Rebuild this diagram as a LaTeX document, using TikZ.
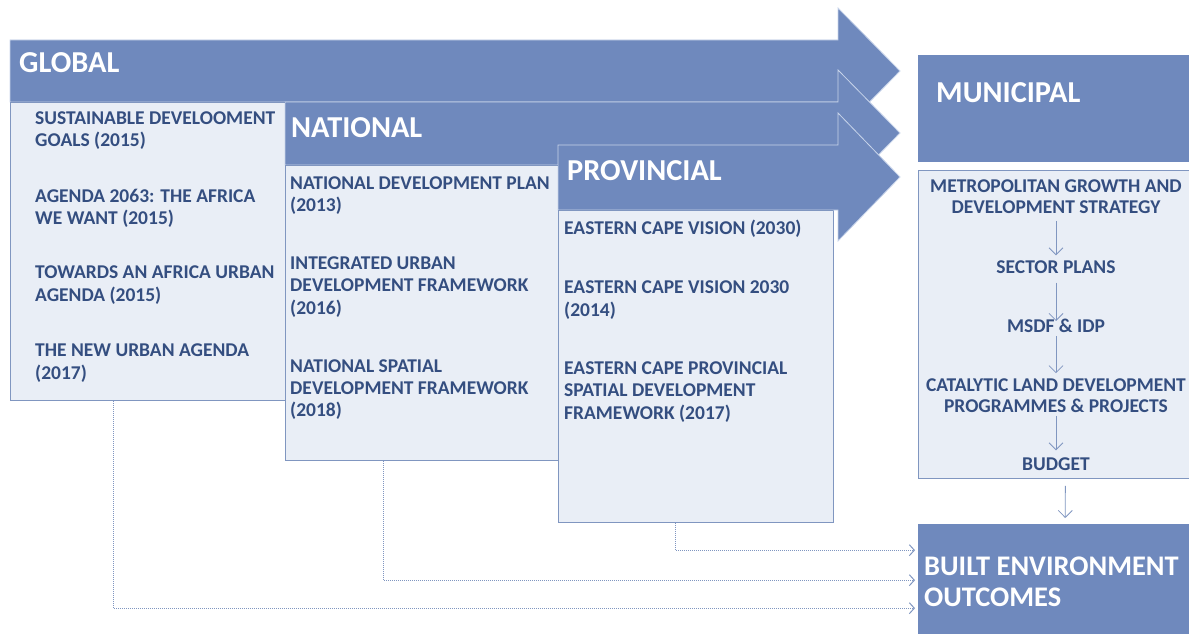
\documentclass[tikz,border=0pt]{standalone}
\usepackage{fontspec}
\setmainfont{Carlito}
\usetikzlibrary{arrows.meta}
\definecolor{band}{RGB}{111,137,189}
\definecolor{bandline}{RGB}{200,212,234}
\definecolor{pale}{RGB}{233,238,246}
\definecolor{edge}{RGB}{128,150,192}
\definecolor{ink}{RGB}{52,78,128}
\begin{document}
\begin{tikzpicture}[x=1pt,y=-1pt,
  bigarrow/.style={fill=band,draw=bandline,line width=0.8pt},
  panel/.style={fill=pale,draw=edge,line width=0.8pt,inner sep=0pt,anchor=north west},
  block/.style={fill=band,draw=none,inner sep=0pt,anchor=north west},
  hdr/.style={text=white,font=\bfseries\fontsize{30.4}{31}\selectfont,inner sep=0pt,anchor=west,align=left},
  item/.style={text=ink,font=\bfseries\fontsize{19.5}{22.3}\selectfont,inner sep=0pt,anchor=west,align=left},
  mitem/.style={text=ink,font=\bfseries\fontsize{19.5}{21.3}\selectfont,inner sep=1pt,align=center},
  marr/.style={draw=edge,line width=0.8pt,-{Straight Barb[length=7pt,width=14pt]}},
  dotc/.style={draw=edge,line width=1pt,densely dotted,-{Straight Barb[length=5pt,width=11pt]},shorten >=3pt}
]
\useasboundingbox (0,0) rectangle (1189,634);
% boxes below the bands
\node[panel,minimum width=275pt,minimum height=298pt] (gbox) at (10,102) {};
\node[panel,minimum width=273pt,minimum height=295pt] (nbox) at (285,165) {};
\node[panel,minimum width=275pt,minimum height=312pt] (pbox) at (558,210) {};
% big arrows
\fill[bigarrow] (10,40) -- (838,40) -- (838,8) -- (900,71) -- (838,134) -- (838,102) -- (10,102) -- cycle;
\fill[bigarrow] (285,102) -- (838,102) -- (838,70) -- (900,133) -- (838,196) -- (838,165) -- (285,165) -- cycle;
\fill[bigarrow] (558,145) -- (838,145) -- (838,113) -- (900,177) -- (838,241) -- (838,210) -- (558,210) -- cycle;
\draw[edge,line width=0.8pt] (285,165) -- (558,165);
\draw[edge,line width=0.8pt] (10,102) -- (285,102);
\draw[edge,line width=0.8pt] (558,210) -- (833,210);
% headers
\node[hdr] (glab) at (19,63) {GLOBAL};
\node[hdr] (nlab) at (291,128) {NATIONAL};
\node[hdr] (plab) at (567,171) {PROVINCIAL};
% municipal
\node[block,minimum width=271pt,minimum height=107pt] (mhead) at (918,55) {};
\node[hdr] (mlab) at (936,93) {MUNICIPAL};
\node[panel,minimum width=271pt,minimum height=308pt] (mbox) at (918,170) {};
\node[block,minimum width=271pt,minimum height=110pt] (bebox) at (918,524) {};
\node[hdr,font=\bfseries\fontsize{28.4}{31}\selectfont] (belab) at (924,581.5) {BUILT ENVIRONMENT\\OUTCOMES};
% global items
\node[item] (g1) at (35,130.5) {SUSTAINABLE DEVELOOMENT\\GOALS (2015)};
\node[item] (g2) at (35,208) {AGENDA 2063: THE AFRICA\\WE WANT (2015)};
\node[item] (g3) at (35,285) {TOWARDS AN AFRICA URBAN\\AGENDA (2015)};
\node[item] (g4) at (35,363) {THE NEW URBAN AGENDA\\(2017)};
% national items
\node[item] (n1) at (290,195.5) {NATIONAL DEVELOPMENT PLAN\\(2013)};
\node[item] (n2) at (290,287) {INTEGRATED URBAN\\DEVELOPMENT FRAMEWORK\\(2016)};
\node[item] (n3) at (290,389.5) {NATIONAL SPATIAL\\DEVELOPMENT FRAMEWORK\\(2018)};
% provincial items
\node[item] (p1) at (564,229) {EASTERN CAPE VISION (2030)};
\node[item] (p2) at (564,300) {EASTERN CAPE VISION 2030\\(2014)};
\node[item] (p3) at (564,392) {EASTERN CAPE PROVINCIAL\\SPATIAL DEVELOPMENT\\FRAMEWORK (2017)};
% municipal items
\node[mitem] (m1) at (1056,196.5) {METROPOLITAN GROWTH AND\\DEVELOPMENT STRATEGY};
\node[mitem] (m2) at (1056,267) {SECTOR PLANS};
\node[mitem] (m3) at (1056,326) {MSDF \& IDP};
\node[mitem] (m4) at (1056,395.5) {CATALYTIC LAND DEVELOPMENT\\PROGRAMMES \& PROJECTS};
\node[mitem] (m5) at (1056,464) {BUDGET};
\draw[marr,shorten <=6pt,shorten >=4pt] (m1) -- (m2);
\draw[marr,shorten <=8pt,shorten >=-3pt] (m2) -- (m3);
\draw[marr,shorten <=2pt,shorten >=4pt] (m3) -- (m4);
\draw[marr,shorten <=2pt,shorten >=6pt] (m4) -- (m5);
\draw[marr,shorten <=7pt,shorten >=6pt] ([xshift=11.5pt]mbox.south) -- ([xshift=11.5pt]bebox.north);
% dotted connectors
\draw[dotc] ([xshift=-20.5pt]pbox.south) |- ([yshift=29pt]bebox.west);
\draw[dotc] ([xshift=-38.5pt]nbox.south) |- ([yshift=-1pt]bebox.west);
\draw[dotc] ([xshift=-34.5pt]gbox.south) |- ([yshift=-29pt]bebox.west);
\end{tikzpicture}
\end{document}
